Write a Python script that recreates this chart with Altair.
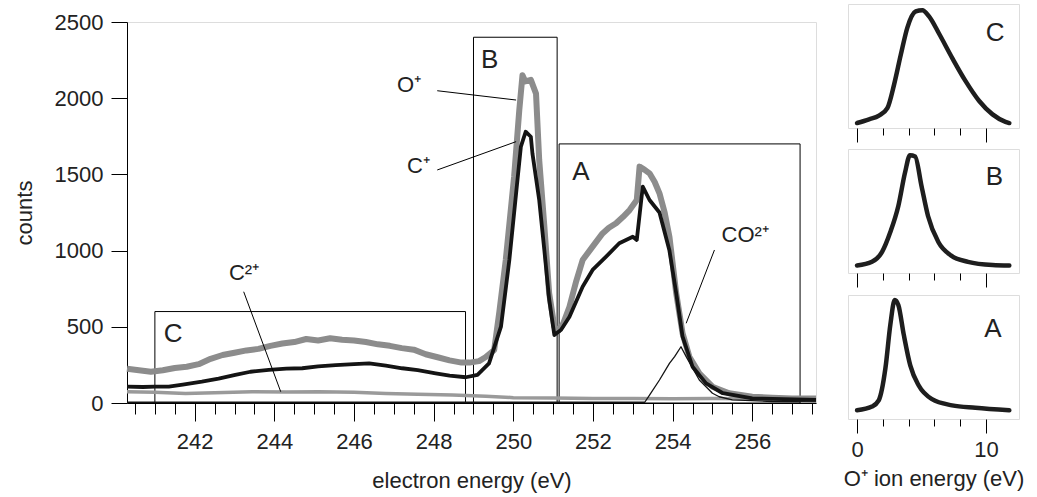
import altair as alt
import pandas as pd

# ---------------- main spectrum data (electron energy eV, counts) ----------------
op_e = [240.3, 240.6, 240.9, 241.2, 241.5, 241.8, 242.1, 242.4, 242.7, 243.0, 243.3, 243.6,
        243.9, 244.2, 244.5, 244.8, 245.1, 245.4, 245.7, 246.0, 246.3, 246.6, 246.9, 247.2,
        247.5, 247.8, 248.1, 248.4, 248.7, 248.9, 249.14, 249.3, 249.52, 249.65, 249.81,
        250.02, 250.15, 250.23, 250.3, 250.44, 250.57, 250.65, 250.78, 250.9, 251.03, 251.11,
        251.25, 251.41, 251.58, 251.74, 251.99, 252.24, 252.4, 252.58, 252.75, 252.92, 253.1,
        253.17, 253.3, 253.42, 253.55, 253.67, 253.8, 253.92, 254.09, 254.25, 254.42, 254.67,
        255.0, 255.42, 256.0, 256.5, 257.0, 257.6]
op_c = [225, 215, 205, 215, 230, 238, 255, 290, 315, 330, 345, 355,
        375, 390, 400, 420, 410, 425, 415, 410, 400, 385, 375, 360,
        350, 320, 300, 280, 265, 265, 275, 300, 348, 600, 938,
        1485, 1923, 2150, 2110, 2120, 2030, 1594, 1157, 720, 501, 468,
        520, 632, 800, 938, 1026, 1113, 1150, 1179, 1220, 1266, 1332,
        1551, 1530, 1507, 1450, 1376, 1250, 1091, 720, 457, 304, 195,
        107, 64, 41, 35, 30, 30]

cp_e = [240.3, 240.7, 241.0, 241.35, 241.7, 242.18, 242.6, 243.02, 243.4, 243.86, 244.3,
        244.7, 245.1, 245.54, 246.0, 246.38, 246.8, 247.21, 247.6, 248.05, 248.4, 248.81,
        249.1, 249.39, 249.69, 249.9, 250.07, 250.19, 250.31, 250.44, 250.48, 250.65, 250.78,
        250.9, 251.03, 251.2, 251.41, 251.74, 251.99, 252.33, 252.66, 253.0, 253.1, 253.25,
        253.42, 253.67, 253.92, 254.09, 254.25, 254.5, 254.84, 255.26, 256.0, 257.6]
cp_c = [107, 105, 108, 107, 120, 140, 160, 184, 205, 217, 225,
        228, 240, 249, 255, 260, 245, 228, 215, 195, 180, 169,
        185, 260, 501, 938, 1376, 1682, 1780, 1747, 1638, 1332, 1000,
        680, 446, 480, 566, 763, 873, 960, 1048, 1091, 1070, 1420,
        1332, 1250, 1000, 720, 435, 238, 129, 64, 31, 20]

c2_e = [240.3, 241.0, 241.77, 242.5, 243.44, 244.3, 245.12, 246.0, 246.8, 247.6, 248.47,
        249.31, 250.0, 251.0, 252.0, 253.0, 254.0, 255.0, 256.0, 257.6]
c2_c = [74, 70, 63, 68, 74, 72, 74, 70, 63, 58, 52,
        45, 35, 32, 30, 30, 28, 30, 28, 28]

co_e = [240.3, 249.0, 253.3, 253.42, 253.67, 253.92, 254.05, 254.21, 254.34, 254.67,
        255.0, 255.17, 255.5, 256.5, 257.6]
co_c = [5, 5, 5, 52, 151, 260, 304, 369, 304, 151,
        64, 41, 20, 10, 8]

# energy windows (boxes)
box_name = ["C", "B", "A"]
box_x0 = [241.0, 249.0, 251.15]
box_x1 = [248.8, 251.1, 257.2]
box_top = [600, 2400, 1700]

# annotations
lab_text = ["O\u207a", "C\u207a", "CO\u00b2\u207a", "C\u00b2\u207a", "C", "B", "A"]
lab_x = [247.08, 247.33, 255.23, 242.86, 241.22, 249.19, 251.48]
lab_y = [2041, 1509, 1056, 807, 400, 2198, 1463]
lab_size = [22, 22, 22, 22, 26, 26, 26]

lead_id = ["O", "O", "C", "C", "CO", "CO", "C2", "C2"]
lead_x = [248.09, 250.07, 248.09, 250.07, 255.05, 254.34, 243.23, 244.16]
lead_y = [2049, 1988, 1529, 1715, 1004, 523, 730, 74]

x_major = [242, 244, 246, 248, 250, 252, 254, 256]
x_minor = [240.5 + 0.5 * i for i in range(35)]
y_ticks = [0, 500, 1000, 1500, 2000, 2500]
x_domain = [240.3, 257.6]

# ---------------- O+ ion energy panels ----------------
pC_x = [0, 0.93, 1.7, 2.35, 2.87, 3.39, 3.9, 4.55, 5.06, 5.58, 6.36, 7.4, 8.4, 9.45, 10.5, 11.5, 11.8]
pC_y = [0.04, 0.07, 0.10, 0.16, 0.35, 0.59, 0.81, 0.94, 0.95, 0.90, 0.76, 0.56, 0.38, 0.22, 0.11, 0.05, 0.04]
pB_x = [0, 1.16, 1.94, 2.58, 3.2, 3.72, 4.1, 4.5, 5.0, 5.5, 6.3, 7.3, 8.6, 10.5, 11.8]
pB_y = [0.06, 0.09, 0.17, 0.33, 0.54, 0.81, 0.95, 0.94, 0.70, 0.46, 0.25, 0.14, 0.09, 0.064, 0.06]
pA_x = [0, 1.16, 1.68, 2.2, 2.58, 2.92, 3.2, 3.62, 4.13, 4.78, 5.81, 7.36, 9.17, 11.8]
pA_y = [0.07, 0.10, 0.15, 0.41, 0.76, 0.96, 0.92, 0.68, 0.43, 0.27, 0.16, 0.11, 0.09, 0.07]
panel_major = [0, 10]
panel_minor = [2, 4, 6, 8]
panel_domain = [-0.7, 12.55]
panel_lab_x = [9.98, 9.98, 9.85]
panel_lab_y = [0.70, 0.71, 0.66]

FONT = "Liberation Sans"
TXT = "#222222"

# ---------------- main chart ----------------
xs = alt.Scale(domain=x_domain, nice=False, zero=False)
ys = alt.Scale(domain=[0, 2500], nice=False)

ax_major = alt.Axis(values=x_major, orient="bottom", tickSize=18, labelFontSize=22, labelPadding=10,
                    title="electron energy (eV)", titleFontSize=22, titlePadding=18,
                    grid=False, format="d", domainColor="black", tickColor="black",
                    labelColor=TXT, titleColor=TXT, labelFont=FONT, titleFont=FONT,
                    titleFontWeight="normal")
ax_minor = alt.Axis(values=x_minor, orient="bottom", tickSize=11, labels=False, title=None,
                    grid=False, domain=False, tickColor="black")
ay = alt.Axis(values=y_ticks, orient="left", tickSize=16, labelFontSize=22, labelPadding=8,
              title="counts", titleFontSize=22, titlePadding=18, grid=False, domainColor="black",
              tickColor="black", labelColor=TXT, titleColor=TXT, labelFont=FONT, format="d",
              titleFont=FONT, titleFontWeight="normal")

boxes_df = pd.DataFrame({"name": box_name, "x0": box_x0, "x1": box_x1, "top": box_top,
                         "bottom": [0, 0, 0]})
boxes = alt.Chart(boxes_df).mark_rect(fillOpacity=0, stroke="black", strokeWidth=1).encode(
    x=alt.X("x0:Q", scale=xs, axis=ax_minor), x2="x1:Q",
    y=alt.Y("bottom:Q", scale=ys, axis=ay), y2="top:Q")


def series(e, c, color, width, axis_x=None):
    d = pd.DataFrame({"e": e, "c": c})
    xenc = alt.X("e:Q", scale=xs, axis=axis_x) if axis_x is not None else alt.X("e:Q", scale=xs, axis=None)
    return alt.Chart(d).mark_line(color=color, strokeWidth=width, strokeJoin="round").encode(
        x=xenc, y=alt.Y("c:Q", scale=ys, axis=ay))


l_c2 = series(c2_e, c2_c, "#9a9a9a", 3.5)
l_op = series(op_e, op_c, "#8c8c8c", 6)
l_cp = series(cp_e, cp_c, "#141414", 3.8, ax_major)
l_co = series(co_e, co_c, "#141414", 1.3)

lead_df = pd.DataFrame({"id": lead_id, "x": lead_x, "y": lead_y})
leaders = alt.Chart(lead_df).mark_line(color="black", strokeWidth=1).encode(
    x=alt.X("x:Q", scale=xs, axis=None), y=alt.Y("y:Q", scale=ys, axis=ay), detail="id:N")

lab_df = pd.DataFrame({"t": lab_text, "x": lab_x, "y": lab_y, "s": lab_size})
labels = alt.Chart(lab_df).mark_text(align="left", baseline="alphabetic", font=FONT, color=TXT).encode(
    x=alt.X("x:Q", scale=xs, axis=None), y=alt.Y("y:Q", scale=ys, axis=ay),
    text="t:N", size=alt.Size("s:Q", scale=None))

main = alt.layer(boxes, l_c2, l_op, l_cp, l_co, leaders, labels).resolve_axis(
    x="independent").properties(width=689, height=381)

# blank strip that pushes the main plot below the top of the side panels
blank = alt.Chart(pd.DataFrame({"k": [0]})).mark_rule(color="white").encode(
    x=alt.value(0), x2=alt.value(1), y=alt.value(0)).properties(
    width=689, height=1, view=alt.ViewBackground(stroke="transparent", strokeWidth=0))

left = alt.vconcat(blank, main, spacing=5)


# ---------------- panels ----------------
def panel(px, py, letter, lx, ly, bottom):
    pxs = alt.Scale(domain=panel_domain, nice=False, zero=False)
    pys = alt.Scale(domain=[0, 1], nice=False)
    if bottom:
        maj = alt.Axis(values=panel_major, orient="bottom", tickSize=14, labelFontSize=22,
                       labelPadding=6, title="O\u207a ion energy (eV)", titleFontSize=22,
                       titlePadding=8, grid=False, domain=False, tickColor="black",
                       labelColor=TXT, titleColor=TXT, labelFont=FONT, titleFont=FONT,
                       titleFontWeight="normal")
    else:
        maj = alt.Axis(values=panel_major, orient="bottom", tickSize=14, labels=False,
                       title=None, grid=False, domain=False, tickColor="black")
    mnr = alt.Axis(values=panel_minor, orient="bottom", tickSize=7, labels=False, title=None,
                   grid=False, domain=False, tickColor="black")
    d = pd.DataFrame({"x": px, "y": py})
    line = alt.Chart(d).mark_line(color="#1e1e1e", strokeWidth=4.5, interpolate="monotone",
                                  strokeCap="round").encode(
        x=alt.X("x:Q", scale=pxs, axis=maj), y=alt.Y("y:Q", scale=pys, axis=None))
    t = alt.Chart(pd.DataFrame({"x": [lx], "y": [ly], "t": [letter]})).mark_text(
        align="left", baseline="alphabetic", font=FONT, fontSize=26, color=TXT).encode(
        x=alt.X("x:Q", scale=pxs, axis=mnr), y=alt.Y("y:Q", scale=pys, axis=None), text="t:N")
    return alt.layer(line, t).resolve_axis(x="independent").properties(width=171, height=124)


pC = panel(pC_x, pC_y, "C", panel_lab_x[0], panel_lab_y[0], False)
pB = panel(pB_x, pB_y, "B", panel_lab_x[1], panel_lab_y[1], False)
pA = panel(pA_x, pA_y, "A", panel_lab_x[2], panel_lab_y[2], True)

right = alt.vconcat(pC, pB, pA, spacing=2)

chart = alt.hconcat(left, right, spacing=22).properties(
    padding={"left": 12, "top": 0, "right": 2, "bottom": 2}, background="white"
).configure_view(stroke="black", strokeWidth=1).configure(font=FONT)

chart.save("out.html", embed_options={"renderer": "svg", "actions": False})
